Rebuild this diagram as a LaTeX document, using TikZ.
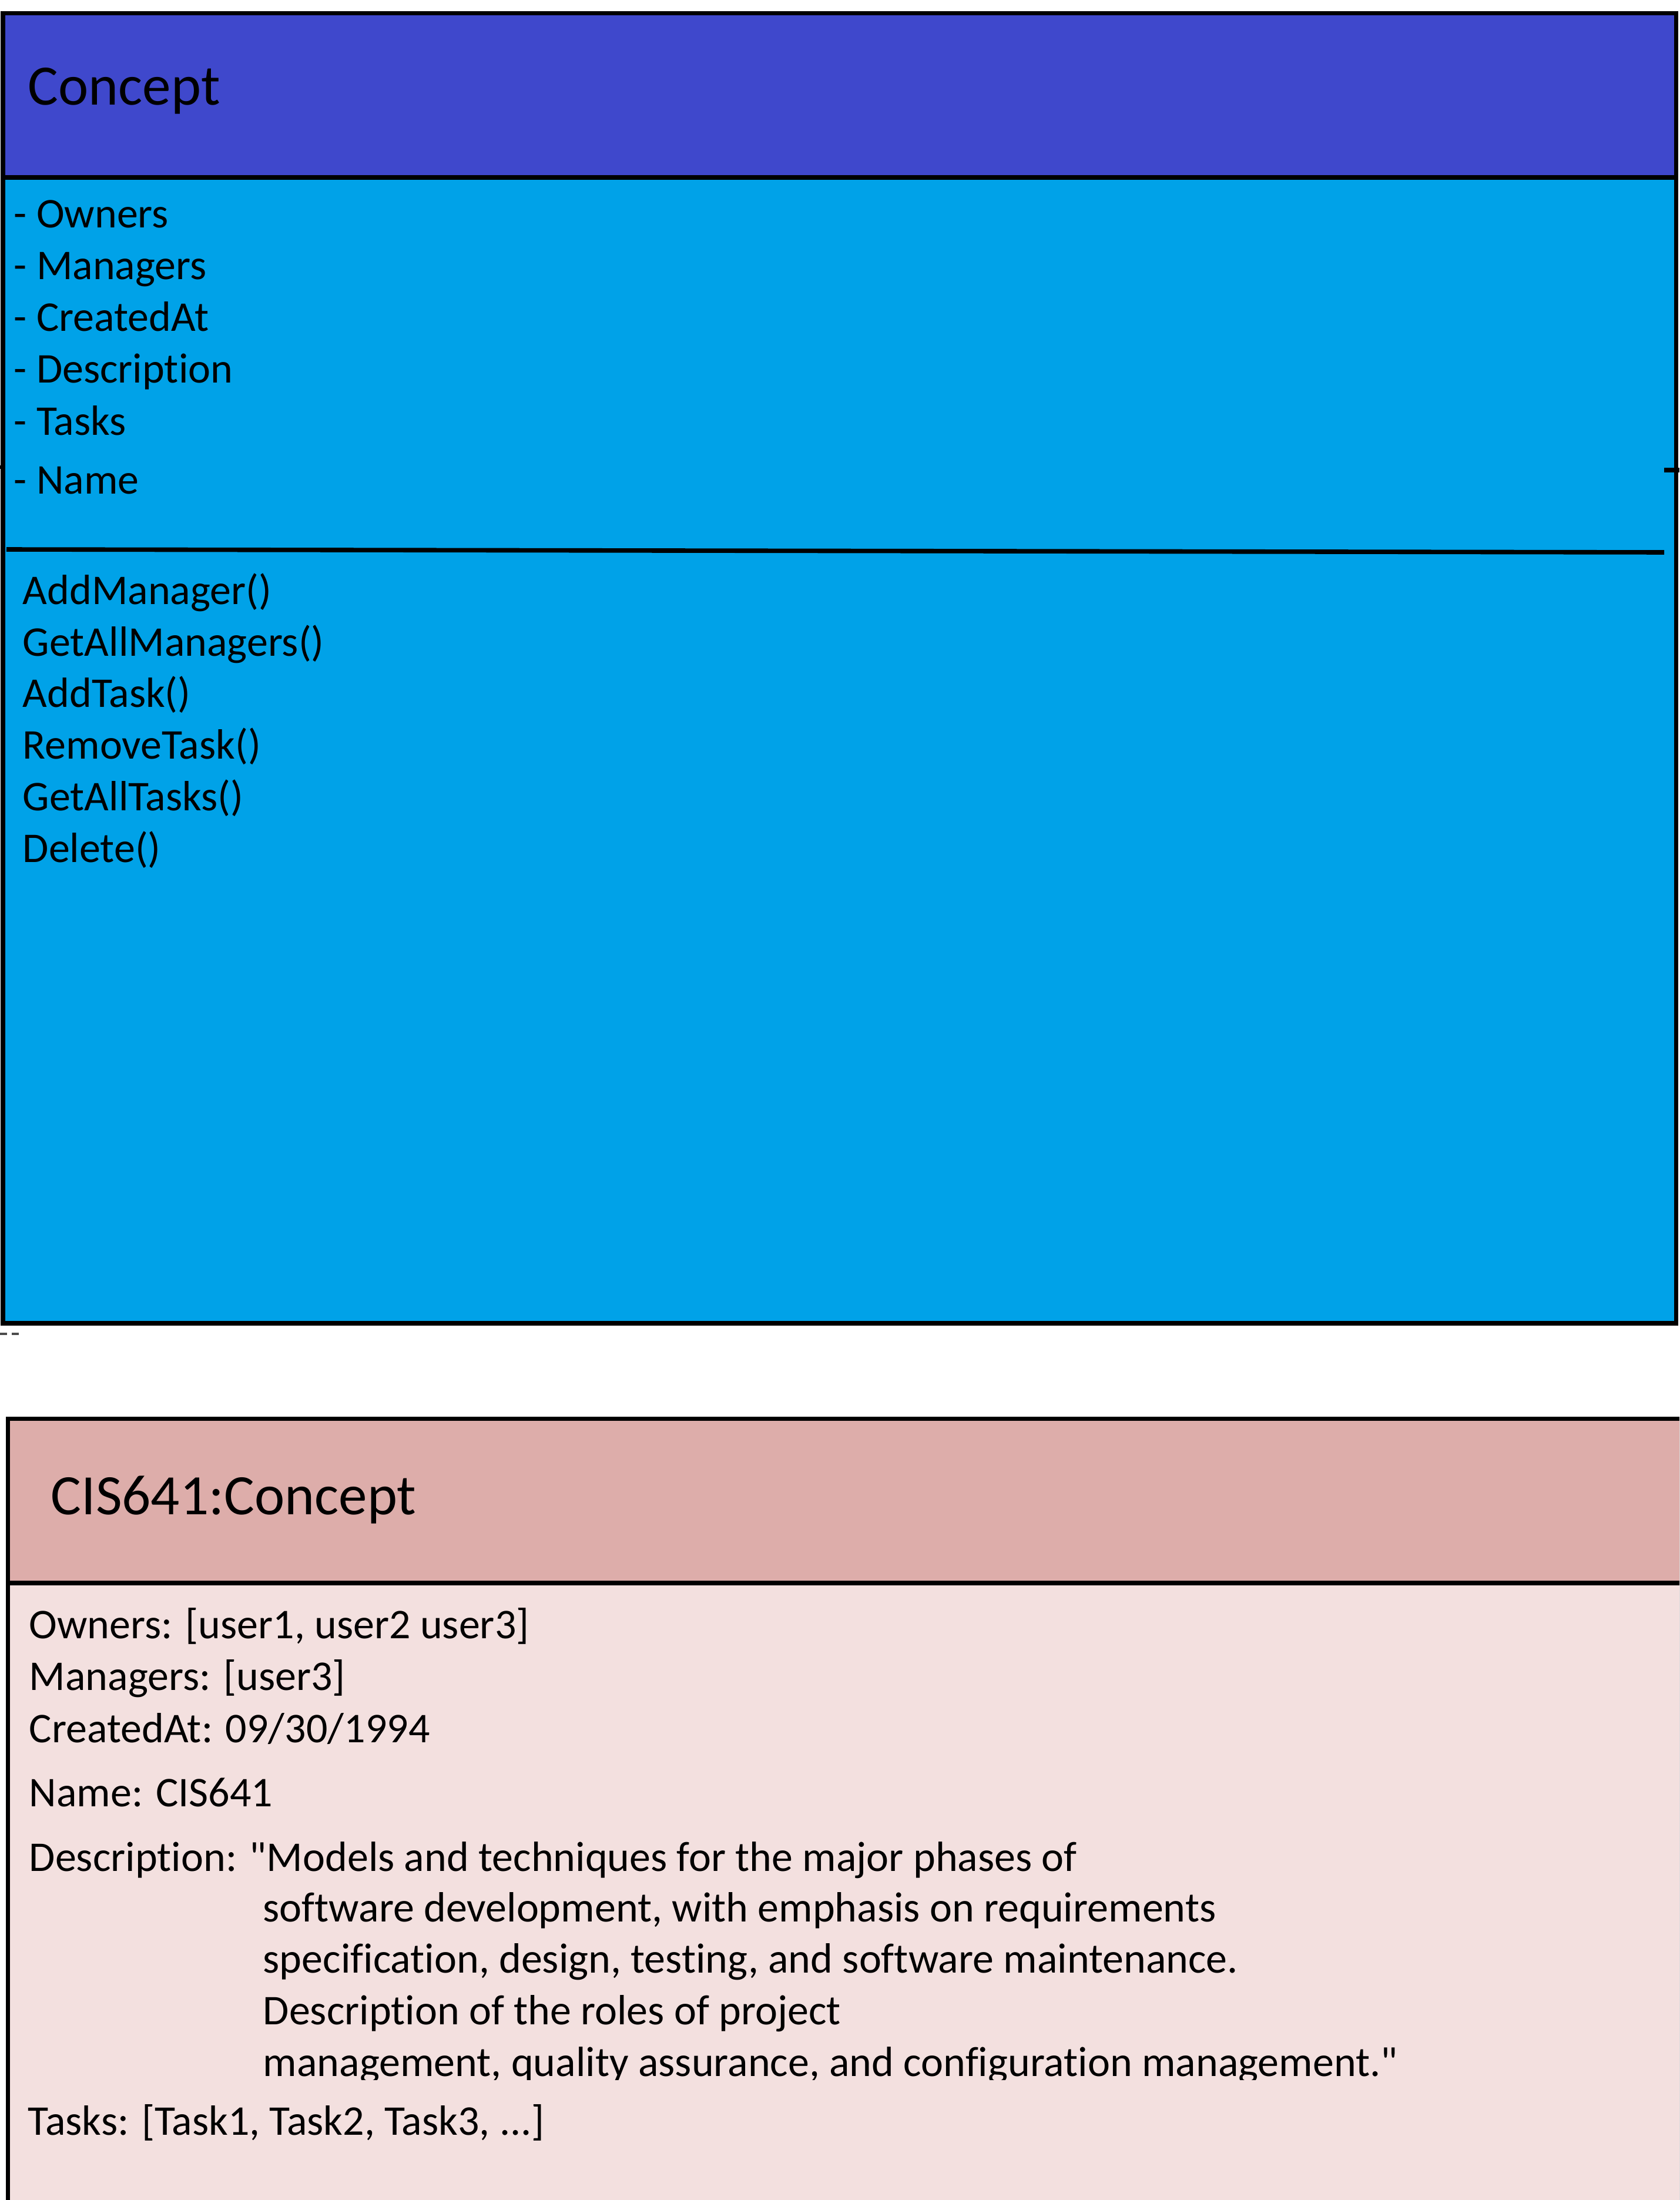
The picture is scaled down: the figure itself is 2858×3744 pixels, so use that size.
\documentclass[tikz,border=0pt]{standalone}
\usepackage{fontspec}
\setmainfont{Carlito}[Ligatures={TeXOff,NoCommon}]
\definecolor{hdrblue}{RGB}{63,72,204}
\definecolor{bodyblue}{RGB}{0,162,232}
\definecolor{hdrpink}{RGB}{221,173,170}
\definecolor{bodypink}{RGB}{243,224,223}
\tikzset{
  border/.style={draw=black,line width=1.9pt},
  titletext/.style={anchor=base west,inner sep=0pt,font=\fontsize{24.3pt}{29pt}\selectfont},
  bodytext/.style={anchor=base west,inner sep=0pt,font=\fontsize{18pt}{22pt}\selectfont},
}
\begin{document}
\begin{tikzpicture}[x=0.25pt,y=-0.25pt]
\useasboundingbox (0,0) rectangle (2858,3744);
\clip (0,0) rectangle (2858,3744);
% ---------- class box ----------
\fill[bodyblue] (5,22.5) rectangle (2852.5,2252);
\fill[hdrblue] (5,22.5) rectangle (2852.5,302);
\draw[border] (5,22.5) rectangle (2852.5,2252);
\draw[border] (5,302) -- (2852.5,302);
\coordinate (divL) at (11,935);
\coordinate (divR) at (2832,940);
\draw[border] (divL) -- (divR);
\coordinate (tickA) at (2832,800);
\coordinate (tickB) at (2858,800);
\draw[border] (tickA) -- (tickB);
\coordinate (tickC) at (0,795);
\coordinate (tickD) at (9,795);
\draw[black,line width=1.5pt] (tickC) -- (tickD);

\node[titletext] (ctitle) at (47,179) {Concept};
\node[bodytext] (a1) at (23,388) {- Owners};
\node[bodytext] (a2) at (23,476) {- Managers};
\node[bodytext] (a3) at (23,564) {- CreatedAt};
\node[bodytext] (a4) at (23,652) {- Description};
\node[bodytext] (a5) at (23,741) {- Tasks};
\node[bodytext] (a6) at (23,840) {- Name};

\node[bodytext] (m1) at (38,1028) {AddManager()};
\node[bodytext] (m2) at (38,1116) {GetAllManagers()};
\node[bodytext] (m3) at (38,1203) {AddTask()};
\node[bodytext] (m4) at (38,1291) {RemoveTask()};
\node[bodytext] (m5) at (38,1379) {GetAllTasks()};
\node[bodytext] (m6) at (38,1467) {Delete()};

% small stray dashes
\coordinate (dashA) at (0,2270);
\coordinate (dashB) at (38,2270);
\draw[black!70,line width=0.8pt,dash pattern=on 3pt off 2pt] (dashA) -- (dashB);

% ---------- object box ----------
\fill[bodypink] (13.5,2414.5) rectangle (2862,3760);
\fill[hdrpink] (13.5,2414.5) rectangle (2862,2694);
\draw[border] (13.5,2414.5) rectangle (2862,3760);
\draw[border] (13.5,2694) -- (2862,2694);

\node[titletext] (otitle) at (86,2577) {CIS641:Concept};
\node[bodytext] (o1) at (49,2788) {Owners: [user1, user2 user3]};
\node[bodytext] (o2) at (49,2876) {Managers: [user3]};
\node[bodytext] (o3) at (49,2965) {CreatedAt: 09/30/1994};
\node[bodytext] (o4) at (49,3074) {Name: CIS641};
\node[bodytext] (o5) at (49,3184) {Description: "Models and techniques for the major phases of};
\node[bodytext] (o6) at (447,3270) {software development, with emphasis on requirements};
\node[bodytext] (o7) at (447,3357) {specification, design, testing, and software maintenance.};
\node[bodytext] (o8) at (447,3445) {Description of the roles of project};
\begin{scope}
\clip (0,3300) rectangle (2858,3539);
\node[bodytext] (o9) at (447,3533) {management, quality assurance, and configuration management."};
\end{scope}
\node[bodytext] (o10) at (47,3633) {Tasks: [Task1, Task2, Task3, ...]};
\end{tikzpicture}
\end{document}
